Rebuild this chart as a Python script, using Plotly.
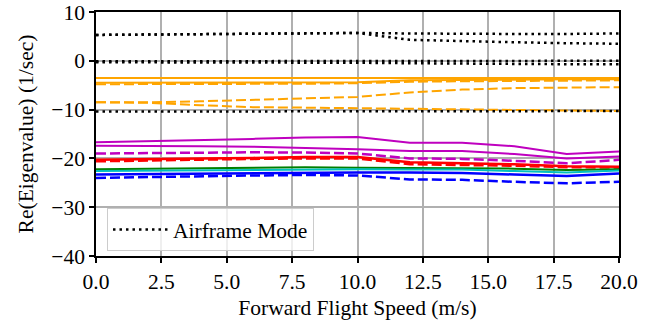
import plotly.graph_objects as go

speed = [0, 2, 4, 6, 8, 10, 12, 14, 16, 18, 20]

# Airframe modes (black dotted)
air_top = [5.3, 5.4, 5.5, 5.6, 5.7, 5.7, 5.6, 5.5, 5.5, 5.5, 5.6]
air_split = [5.3, 5.4, 5.5, 5.6, 5.7, 5.7, 4.3, 4.0, 3.8, 3.6, 3.5]
air_zero_a = [-0.1, -0.1, -0.1, -0.1, -0.1, -0.1, -0.1, -0.1, 0.0, 0.0, 0.0]
air_zero_b = [-0.3, -0.3, -0.3, -0.4, -0.4, -0.4, -0.5, -0.6, -0.6, -0.7, -0.7]
air_minus10 = [-10.4, -10.4, -10.4, -10.4, -10.4, -10.4, -10.4, -10.4, -10.3, -10.3, -10.3]

# Orange modes
orange_solid_a = [-3.5, -3.5, -3.5, -3.5, -3.5, -3.5, -3.5, -3.5, -3.5, -3.5, -3.5]
orange_solid_b = [-4.5, -4.5, -4.5, -4.5, -4.5, -4.4, -4.0, -3.9, -3.8, -3.8, -3.8]
orange_dash_a = [-4.8, -4.8, -4.8, -4.8, -4.7, -4.6, -4.3, -4.2, -4.1, -4.1, -4.0]
orange_dash_b = [-8.5, -8.5, -8.3, -8.0, -7.7, -7.4, -6.5, -5.9, -5.6, -5.5, -5.4]
orange_dash_c = [-8.5, -8.6, -9.1, -9.5, -9.6, -9.7, -9.8, -9.9, -10.0, -10.1, -10.3]

# Magenta modes
mag_solid_a = [-16.7, -16.5, -16.3, -16.0, -15.7, -15.6, -16.8, -16.8, -17.5, -19.1, -18.6]
mag_solid_b = [-17.4, -17.4, -17.5, -17.6, -17.8, -18.1, -18.5, -18.5, -19.1, -20.0, -19.6]
mag_dash = [-19.0, -18.9, -18.8, -18.75, -18.8, -19.0, -20.0, -20.1, -20.5, -21.0, -20.3]

# Red modes
red_solid = [-20.3, -20.1, -20.0, -19.9, -19.7, -19.7, -20.8, -21.0, -21.2, -21.6, -21.7]
red_dash = [-20.6, -20.4, -20.2, -20.1, -20.0, -20.0, -21.2, -21.3, -21.5, -21.8, -21.9]

# Green / cyan / blue modes
green_solid = [-22.2, -22.1, -22.0, -21.9, -21.8, -21.9, -22.0, -22.0, -22.1, -22.4, -22.2]
cyan_solid = [-22.6, -22.5, -22.4, -22.3, -22.2, -22.2, -22.3, -22.3, -22.6, -22.9, -22.5]
blue_solid = [-23.3, -23.2, -23.1, -23.0, -22.9, -22.9, -22.9, -23.0, -23.3, -23.6, -23.1]
blue_dash = [-24.0, -23.8, -23.6, -23.5, -23.4, -23.5, -24.3, -24.4, -24.8, -25.1, -24.8]

x_ticks = [0, 2.5, 5, 7.5, 10, 12.5, 15, 17.5, 20]
y_ticks = [10, 0, -10, -20, -30, -40]

DOT = "2.5px,4px"
DASH = "10px,4px"
ORANGE = "#FFA500"
MAG = "#BF00BF"
RED = "#FF0000"
GREEN = "#008000"
CYAN = "#00BFBF"
BLUE = "#0000FF"
FONT = "'Liberation Serif', 'Times New Roman', serif"
FS = 21.5

fig = go.Figure()

def add(y, color, dash="solid", width=2.0, name=None, show=False):
    fig.add_trace(go.Scatter(
        x=speed, y=y, mode="lines", name=name, showlegend=show,
        line=dict(color=color, width=width, dash=dash),
    ))

add(orange_solid_a, ORANGE)
add(orange_solid_b, ORANGE)
add(orange_dash_a, ORANGE, DASH)
add(orange_dash_b, ORANGE, DASH)
add(orange_dash_c, ORANGE, DASH)
add(mag_solid_a, MAG)
add(mag_solid_b, MAG)
add(mag_dash, MAG, DASH, 2.5)
add(red_solid, RED, width=2.5)
add(red_dash, RED, DASH, 2.5)
add(green_solid, GREEN)
add(cyan_solid, CYAN)
add(blue_solid, BLUE, width=2.5)
add(blue_dash, BLUE, DASH, 2.5)
add(air_top, "black", DOT, 2.5, "Airframe Mode", True)
add(air_split, "black", DOT, 2.5)
add(air_zero_a, "black", DOT, 2.5)
add(air_zero_b, "black", DOT, 2.5)
add(air_minus10, "black", DOT, 2.5)

axis_common = dict(
    showline=True, linecolor="black", linewidth=1.5, mirror=True,
    ticks="outside", ticklen=5, tickwidth=1.5, tickcolor="black",
    showgrid=True, gridcolor="#b0b0b0", gridwidth=1.5, zeroline=False,
    automargin=False,
    tickfont=dict(family=FONT, size=FS, color="black"),
)

fig.update_xaxes(
    range=[0, 20], tickvals=x_ticks, tickformat=".1f",
    title=dict(text="Forward Flight Speed (m/s)", font=dict(family=FONT, size=FS, color="black"), standoff=7),
    **axis_common,
)
fig.update_yaxes(
    range=[-40, 10], tickvals=y_ticks,
    title=dict(text="Re(Eigenvalue) (1/sec)", font=dict(family=FONT, size=FS, color="black"), standoff=12),
    **axis_common,
)

fig.update_layout(
    width=650, height=331,
    margin=dict(l=96, r=31, t=12, b=75),
    plot_bgcolor="white", paper_bgcolor="white",
    font=dict(family=FONT, size=FS, color="black"),
    legend=dict(
        x=0.021, y=0.02, xanchor="left", yanchor="bottom",
        itemwidth=55,
        bgcolor="rgba(255,255,255,0.8)", bordercolor="#cccccc", borderwidth=1,
        font=dict(family=FONT, size=FS, color="black"),
    ),
)

fig.write_html("out.html")
